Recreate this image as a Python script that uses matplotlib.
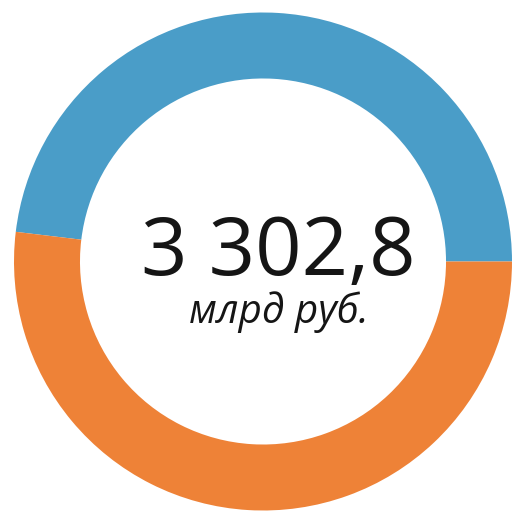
import matplotlib.pyplot as plt

# Two parts of the total, billion rubles
labels = ["Часть 1", "Часть 2"]
values = [1588.6, 1714.2]
colors = ["#4A9DC8", "#EE8237"]
total_text = "3 302,8"
unit_text = "млрд руб."

fig = plt.figure(figsize=(5.15, 5.14), dpi=100)
ax = fig.add_axes([0, 0, 1, 1])

ax.pie(
    values,
    colors=colors,
    startangle=0,
    counterclock=True,
    radius=1.0,
    wedgeprops=dict(width=0.265, edgecolor="none"),
)

# keep the ring where it sits on the page
R = 249.0
ax.set_xlim(-263 / R, (515 - 263) / R)
ax.set_ylim(-(514 - 261.5) / R, 261.5 / R)
ax.axis("off")

ax.text(0.060, -0.054, total_text, ha="center", va="baseline",
        fontsize=58.5, family="Open Sans", color="#151515")
ax.text(0.062, -0.247, unit_text, ha="center", va="baseline",
        fontsize=29, family="Open Sans", style="italic", color="#151515")

fig.savefig("out.png", dpi=100, facecolor="white")
